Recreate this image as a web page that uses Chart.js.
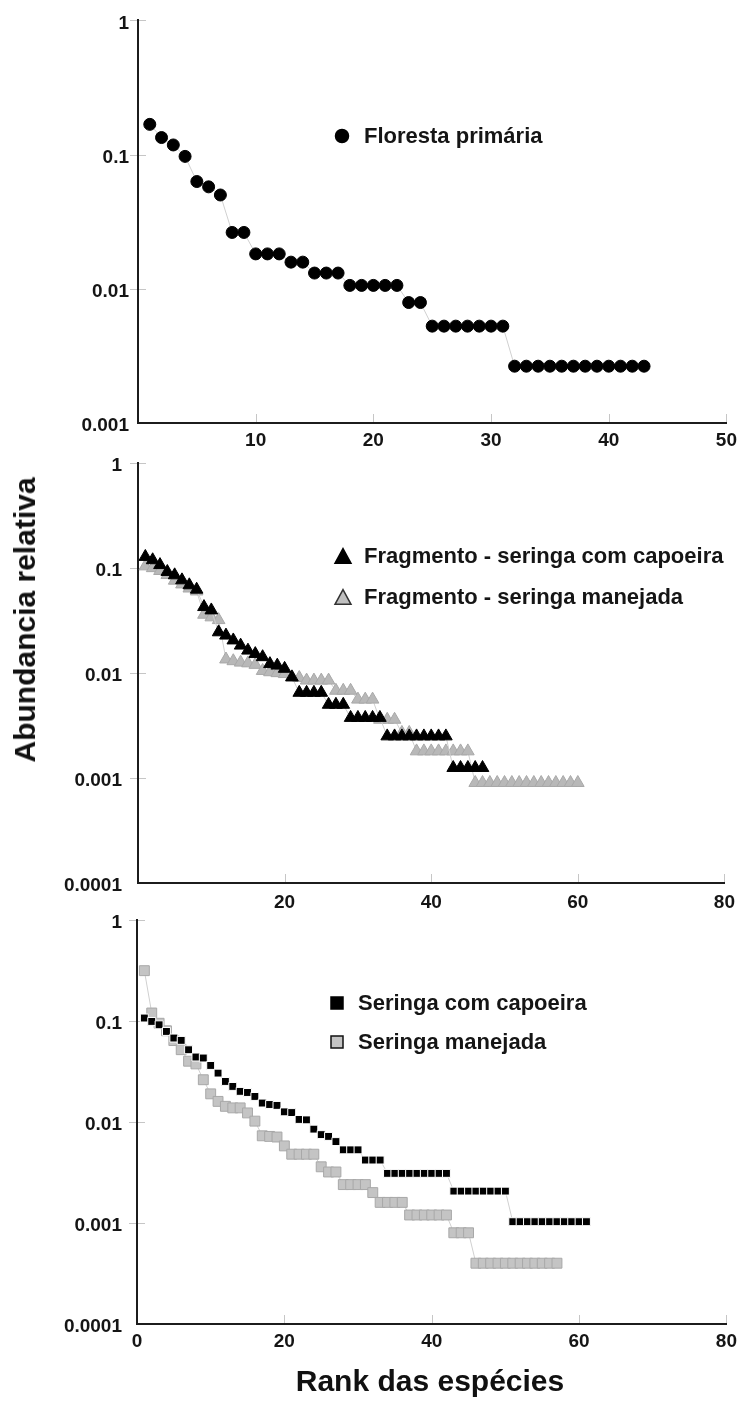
<!DOCTYPE html>
<html>
<head>
<meta charset="utf-8">
<script src="https://cdn.jsdelivr.net/npm/chart.js@4.4.0/dist/chart.umd.min.js"></script>
<style>
  body { margin: 0; background: #fff; width: 743px; height: 1410px; overflow: hidden; }
  canvas { position: absolute; left: 0; top: 0; }
  .title { position: absolute; font: bold 30px "Liberation Sans", Arial, sans-serif; color: #111; white-space: nowrap; }
</style>
</head>
<body>
<canvas id="c1" width="743" height="1410"></canvas>
<canvas id="c2" width="743" height="1410"></canvas>
<canvas id="c3" width="743" height="1410"></canvas>
<div class="title" style="left:25px; top:620px; transform: translate(-50%,-50%) rotate(-90deg);">Abundancia relativa</div>
<div class="title" style="left:430px; top:1381px; transform: translate(-50%,-50%);">Rank das espécies</div>
<script>
// ---------------- DATA ----------------
const florestaPrimaria = [0.168, 0.134, 0.118, 0.097, 0.063, 0.0575, 0.050, 0.0263, 0.0263,
  0.0182, 0.0182, 0.0182, 0.0158, 0.0158, 0.0131, 0.0131, 0.0131,
  0.0106, 0.0106, 0.0106, 0.0106, 0.0106, 0.0079, 0.0079,
  0.00527, 0.00527, 0.00527, 0.00527, 0.00527, 0.00527, 0.00527,
  0.00265, 0.00265, 0.00265, 0.00265, 0.00265, 0.00265, 0.00265, 0.00265, 0.00265, 0.00265, 0.00265, 0.00265];

const fragCapoeira = [0.128, 0.119, 0.107, 0.092, 0.0855, 0.0766, 0.0687, 0.0624, 0.0426, 0.0396,
  0.0245, 0.0228, 0.0205, 0.0183, 0.0164, 0.0152, 0.0142, 0.0122, 0.0118, 0.011,
  0.0091, 0.0065, 0.0065, 0.0065, 0.0065, 0.005, 0.005, 0.005,
  0.00375, 0.00375, 0.00375, 0.00375, 0.00375,
  0.0025, 0.0025, 0.0025, 0.0025, 0.0025, 0.0025, 0.0025, 0.0025, 0.0025,
  0.00125, 0.00125, 0.00125, 0.00125, 0.00125];

const fragManejada = [0.104, 0.1, 0.094, 0.086, 0.076, 0.07, 0.064, 0.06, 0.036, 0.034,
  0.032, 0.0135, 0.013, 0.0126, 0.0124, 0.012, 0.0105, 0.0102, 0.01, 0.0098,
  0.0092, 0.009, 0.0085, 0.0085, 0.0085, 0.0085, 0.0068, 0.0068, 0.0068,
  0.0056, 0.0056, 0.0056, 0.0036, 0.0036, 0.0036, 0.0027, 0.0027,
  0.0018, 0.0018, 0.0018, 0.0018, 0.0018, 0.0018, 0.0018, 0.0018,
  0.0009, 0.0009, 0.0009, 0.0009, 0.0009, 0.0009, 0.0009, 0.0009, 0.0009, 0.0009,
  0.0009, 0.0009, 0.0009, 0.0009, 0.0009];

const seringaCapoeira = [0.107, 0.099, 0.0917, 0.0788, 0.0678, 0.0643, 0.0519, 0.044, 0.043, 0.0363,
  0.0305, 0.0252, 0.0225, 0.0201, 0.0196, 0.0179, 0.0154, 0.0149, 0.0146, 0.0126,
  0.0124, 0.0106, 0.0105, 0.0085, 0.0075, 0.0072, 0.0064, 0.0053, 0.0053, 0.0053,
  0.0042, 0.0042, 0.0042,
  0.0031, 0.0031, 0.0031, 0.0031, 0.0031, 0.0031, 0.0031, 0.0031, 0.0031,
  0.00207, 0.00207, 0.00207, 0.00207, 0.00207, 0.00207, 0.00207, 0.00207,
  0.00103, 0.00103, 0.00103, 0.00103, 0.00103, 0.00103, 0.00103, 0.00103, 0.00103, 0.00103, 0.00103];

const seringaManejada = [0.315, 0.12, 0.095, 0.08, 0.064, 0.052, 0.04, 0.0376, 0.0262, 0.019,
  0.016, 0.0143, 0.0138, 0.0138, 0.0123, 0.0102, 0.0073, 0.0072, 0.0071, 0.0058,
  0.0048, 0.0048, 0.0048, 0.0048, 0.0036, 0.0032, 0.0032,
  0.0024, 0.0024, 0.0024, 0.0024, 0.002, 0.0016, 0.0016, 0.0016, 0.0016,
  0.0012, 0.0012, 0.0012, 0.0012, 0.0012, 0.0012, 0.0008, 0.0008, 0.0008,
  0.0004, 0.0004, 0.0004, 0.0004, 0.0004, 0.0004, 0.0004, 0.0004, 0.0004, 0.0004, 0.0004, 0.0004];

const yTicksTop = [0.001, 0.01, 0.1, 1];
const yLabelsTop = ['0.001', '0.01', '0.1', '1'];
const yTicksLow = [0.0001, 0.001, 0.01, 0.1, 1];
const yLabelsLow = ['0.0001', '0.001', '0.01', '0.1', '1'];
const xTicks1 = [10, 20, 30, 40, 50];
const xTicks2 = [20, 40, 60, 80];
const xTicks3 = [0, 20, 40, 60, 80];

// ---------------- HELPERS ----------------
const W = 743, H = 1410;
const tickFont = { family: '"Liberation Sans", Arial, sans-serif', size: 19, weight: 'bold' };

function toPoints(vals) {
  return vals.map((v, i) => ({ x: i + 1, y: v }));
}

function drawMark(ctx, style, x, y, s) {
  ctx.beginPath();
  if (style === 'circle') {
    ctx.arc(x, y, s / 2, 0, Math.PI * 2);
  } else if (style === 'triangle') {
    const h = s * 0.92;
    ctx.moveTo(x, y - h / 2);
    ctx.lineTo(x + s / 2, y + h / 2);
    ctx.lineTo(x - s / 2, y + h / 2);
    ctx.closePath();
  } else {
    ctx.rect(x - s / 2, y - s / 2, s, s);
  }
}

// short grey tick marks drawn inside / across the axes
const innerTicks = {
  id: 'innerTicks',
  beforeDatasetsDraw(chart) {
    const { ctx, chartArea: a, scales: { x, y } } = chart;
    ctx.save();
    ctx.strokeStyle = '#c6c6c6';
    ctx.lineWidth = 1;
    ctx.beginPath();
    x.ticks.forEach(t => {
      const px = Math.round(x.getPixelForValue(t.value)) + 0.5;
      if (px < a.left + 3) return;
      ctx.moveTo(px, a.bottom - 1);
      ctx.lineTo(px, a.bottom - 9);
    });
    y.ticks.forEach(t => {
      const py = Math.round(y.getPixelForValue(t.value)) + 0.5;
      if (py > a.bottom - 3) return;
      ctx.moveTo(a.left - 8, py);
      ctx.lineTo(a.left - 1, py);
      ctx.moveTo(a.left + 1, py);
      ctx.lineTo(a.left + 8, py);
    });
    ctx.stroke();
    ctx.restore();
  }
};

// legend drawn inside the plot, one row per dataset
const miniLegend = {
  id: 'miniLegend',
  afterDraw(chart, args, o) {
    const ctx = chart.ctx;
    ctx.save();
    ctx.font = 'bold 22px "Liberation Sans", Arial, sans-serif';
    ctx.textBaseline = 'middle';
    chart.data.datasets.forEach((ds, i) => {
      const row = o.rows[i];
      drawMark(ctx, ds.pointStyle, o.markX, row, o.size);
      ctx.fillStyle = o.fill[i];
      ctx.fill();
      ctx.lineWidth = 1.5;
      ctx.strokeStyle = o.stroke[i];
      ctx.stroke();
      ctx.fillStyle = '#151515';
      ctx.fillText(ds.label, o.textX, row + 1);
    });
    ctx.restore();
  }
};

function makePanel(id, box, datasets, xMax, xTicks, yTicks, yLabels, yPad, xPad, legend) {
  return new Chart(document.getElementById(id), {
    type: 'line',
    data: { datasets },
    options: {
      responsive: false,
      animation: false,
      layout: { padding: { top: box.top, right: W - box.right, left: 0, bottom: 0 } },
      plugins: { legend: { display: false }, tooltip: { enabled: false }, miniLegend: legend },
      scales: {
        x: {
          type: 'linear', min: 0, max: xMax,
          afterBuildTicks: s => { s.ticks = xTicks.map(v => ({ value: v })); },
          afterFit: s => { s.height = H - box.bottom; },
          grid: { display: false, drawTicks: false },
          border: { color: '#1c1c1c', width: 2 },
          ticks: { font: tickFont, color: '#151515', padding: xPad, autoSkip: false, maxRotation: 0 }
        },
        y: {
          type: 'logarithmic', min: yTicks[0], max: 1,
          afterBuildTicks: s => { s.ticks = yTicks.map(v => ({ value: v })); },
          afterFit: s => { s.width = box.left; },
          grid: { display: false, drawTicks: false },
          border: { color: '#1c1c1c', width: 2 },
          ticks: { font: tickFont, color: '#151515', padding: yPad, labelOffset: 3, autoSkip: false,
                   callback: (v, i) => yLabels[i] }
        }
      }
    },
    plugins: [innerTicks, miniLegend]
  });
}

function series(label, vals, style, radius, fill, border, bw) {
  return {
    label,
    data: toPoints(vals),
    borderColor: '#d0d0d0',
    borderWidth: 1,
    tension: 0,
    pointStyle: style,
    pointRadius: radius,
    pointBackgroundColor: fill,
    pointBorderColor: border,
    pointBorderWidth: bw
  };
}

// ---------------- PANELS ----------------
makePanel('c1', { top: 15, bottom: 423, left: 138, right: 728 },
  [series('Floresta primária', florestaPrimaria, 'circle', 6, '#000', '#000', 1)],
  50, xTicks1, yTicksTop, yLabelsTop, 9, 6,
  { markX: 342, textX: 364, rows: [136], size: 13, fill: ['#000'], stroke: ['#000'] });

makePanel('c2', { top: 463, bottom: 883, left: 138, right: 728 },
  [series('Fragmento - seringa com capoeira', fragCapoeira, 'triangle', 7.3, '#000', '#000', 1),
   series('Fragmento - seringa manejada', fragManejada, 'triangle', 7.3, '#b8b8b8', '#a8a8a8', 1)],
  80, xTicks2, yTicksLow, yLabelsLow, 16, 8,
  { markX: 343, textX: 364, rows: [556, 597], size: 16, fill: ['#000', '#c0c0c0'], stroke: ['#000', '#333'] });

makePanel('c3', { top: 920, bottom: 1324, left: 137, right: 728 },
  [series('Seringa com capoeira', seringaCapoeira, 'rect', 5.6, '#000', '#ffffff', 1),
   series('Seringa manejada', seringaManejada, 'rect', 7, '#c4c4c4', '#a8a8a8', 1)],
  80, xTicks3, yTicksLow, yLabelsLow, 15, 6,
  { markX: 337, textX: 358, rows: [1003, 1042], size: 12, fill: ['#000', '#c4c4c4'], stroke: ['#000', '#111'] });
</script>
</body>
</html>
